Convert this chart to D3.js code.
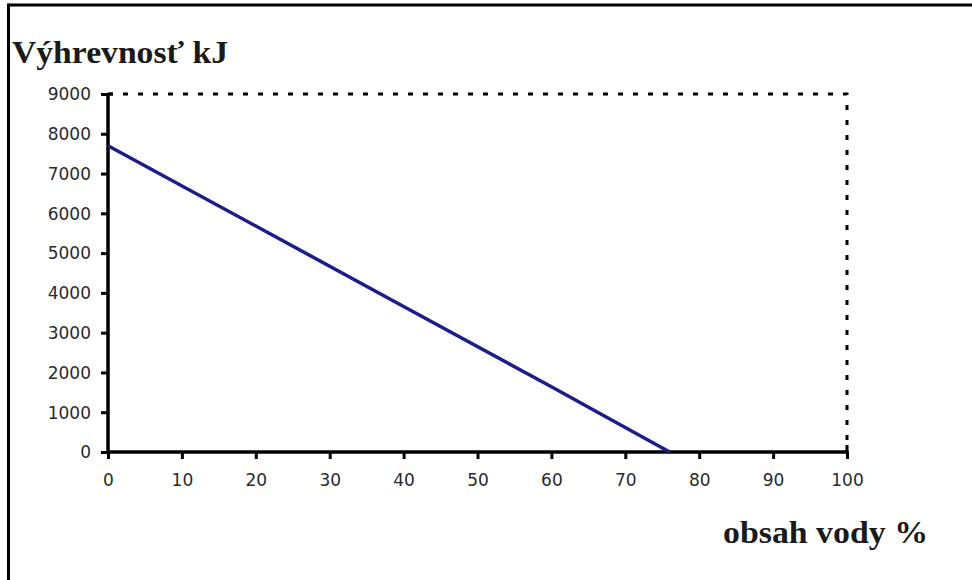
<!DOCTYPE html>
<html><head><meta charset="utf-8">
<script src="https://cdn.jsdelivr.net/npm/d3@7"></script>
<style>html,body{margin:0;padding:0;background:#fff;}svg{display:block;}</style>
</head><body>
<svg id="c" width="972" height="580"></svg>
<script>
// Data
const waterContent = [0, 20, 40, 60, 76];          // obsah vody %
const heatingValue = [7700, 5680, 3660, 1640, 0];  // Výhrevnosť kJ
const xTicks = [0, 10, 20, 30, 40, 50, 60, 70, 80, 90, 100];
const yTicks = [0, 1000, 2000, 3000, 4000, 5000, 6000, 7000, 8000, 9000];
const yTitle = "Výhrevnosť kJ";
const xTitle = "obsah vody %";

const svg = d3.select("#c");
const x = d3.scaleLinear().domain([0, 100]).range([108, 847]);
const y = d3.scaleLinear().domain([0, 9000]).range([452, 94]);

// outer frame (top + left only visible)
svg.append("line").attr("x1", 8.5).attr("x2", 972).attr("y1", 5).attr("y2", 5)
  .attr("stroke", "#000").attr("stroke-width", 3);
svg.append("line").attr("x1", 8.5).attr("x2", 8.5).attr("y1", 3.5).attr("y2", 580)
  .attr("stroke", "#000").attr("stroke-width", 3);

// dotted top and right frame of plot area
svg.append("path")
  .attr("d", `M${x(0)},${y(9000)}H${x(100)}V${y(0)}`)
  .attr("fill", "none").attr("stroke", "#000").attr("stroke-width", 3)
  .attr("stroke-dasharray", "5,10");

// axes
const xAxis = d3.axisBottom(x).tickValues(xTicks).tickSize(7).tickPadding(11).tickFormat(d3.format("d"));
const yAxis = d3.axisLeft(y).tickValues(yTicks).tickSize(7).tickPadding(10).tickFormat(d3.format("d"));

const gx = svg.append("g").attr("transform", `translate(0,${y(0)})`).call(xAxis);
const gy = svg.append("g").attr("transform", `translate(${x(0)},0)`).call(yAxis);

[gx, gy].forEach(g => {
  g.select(".domain").attr("stroke", "#000").attr("stroke-width", 3.5);
  g.selectAll(".tick line").attr("stroke", "#000").attr("stroke-width", 3);
  g.selectAll(".tick text").attr("fill", "#2a2a2a")
    .style("font-family", "'DejaVu Sans', sans-serif").style("font-size", "17px");
});
gx.select(".domain").attr("d", `M${x(0)},0H${x(100)}`);
gy.select(".domain").attr("d", `M0,${y(0)}V${y(9000)}`);
gy.selectAll(".tick text").attr("dy", "0.34em");
gx.selectAll(".tick text").attr("dy", "0.95em");

// end caps
svg.append("line").attr("x1", x(100)).attr("x2", x(100)).attr("y1", y(0) - 7).attr("y2", y(0))
  .attr("stroke", "#000").attr("stroke-width", 3);
svg.append("line").attr("x1", x(0)).attr("x2", x(0) + 5).attr("y1", y(9000)).attr("y2", y(9000))
  .attr("stroke", "#000").attr("stroke-width", 3);

// data line
const pts = waterContent.map((w, i) => [w, heatingValue[i]]);
svg.append("path").datum(pts)
  .attr("d", d3.line().x(d => x(d[0])).y(d => y(d[1])))
  .attr("fill", "none").attr("stroke", "#1c1c8a").attr("stroke-width", 3.5);

// titles
svg.append("text").attr("x", 12).attr("y", 63).text(yTitle)
  .attr("fill", "#1a1a1a").attr("textLength", 216).attr("lengthAdjust", "spacingAndGlyphs")
  .style("font-family", "'Liberation Serif', serif").style("font-weight", "bold").style("font-size", "32px");
svg.append("text").attr("x", 723).attr("y", 543).text(xTitle)
  .attr("fill", "#1a1a1a").attr("textLength", 205).attr("lengthAdjust", "spacingAndGlyphs")
  .style("font-family", "'Liberation Serif', serif").style("font-weight", "bold").style("font-size", "31px");
</script>
</body></html>
